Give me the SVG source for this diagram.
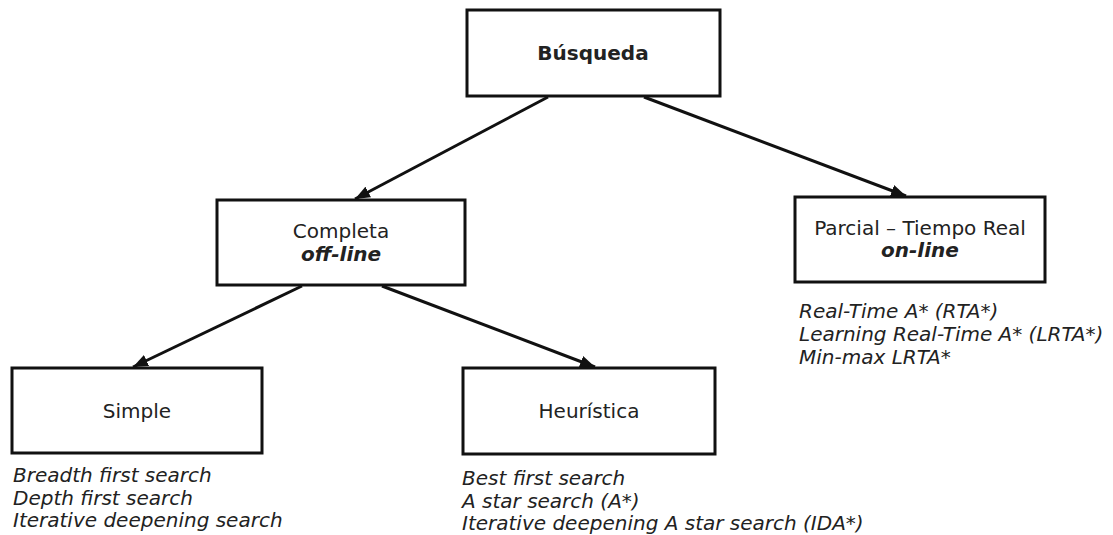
<svg xmlns="http://www.w3.org/2000/svg" width="1113" height="535" viewBox="0 0 1113 535">
<style>
.box{fill:#fff;stroke:#111;stroke-width:3}
.t{font-family:"DejaVu Sans",Verdana,sans-serif;font-size:20px;fill:#222}
.c{text-anchor:middle}
.b{font-weight:bold}
.i{font-style:italic}
.edge{stroke:#111;stroke-width:3;fill:none;marker-end:url(#arr)}
</style>
<defs>
<marker id="arr" markerUnits="userSpaceOnUse" markerWidth="16" markerHeight="12" refX="15" refY="6" orient="auto">
<path d="M0,0 L15,6 L0,12 Z" fill="#111"/>
</marker>
</defs>
<rect width="1113" height="535" fill="#fff"/>
<g id="connectors">
<line class="edge" x1="548" y1="97" x2="355" y2="199"/>
<line class="edge" x1="644" y1="97" x2="906" y2="196"/>
<line class="edge" x1="302" y1="286" x2="133" y2="367"/>
<line class="edge" x1="382" y1="286" x2="595" y2="367"/>
</g>
<g id="busqueda">
<rect class="box" x="467" y="10" width="253" height="86"/>
<text class="t c b" x="593" y="60">Búsqueda</text>
</g>
<g id="completa">
<rect class="box" x="217" y="200" width="248" height="85"/>
<text class="t c" x="341" y="238">Completa</text>
<text class="t c b i" x="341" y="261">off-line</text>
</g>
<g id="parcial">
<rect class="box" x="795" y="197" width="250" height="85"/>
<text class="t c" x="920" y="235">Parcial – Tiempo Real</text>
<text class="t c b i" x="920" y="257">on-line</text>
<text class="t i" x="799" y="318">Real-Time A* (RTA*)</text>
<text class="t i" x="799" y="341">Learning Real-Time A* (LRTA*)</text>
<text class="t i" x="799" y="364">Min-max LRTA*</text>
</g>
<g id="simple">
<rect class="box" x="12" y="368" width="250" height="85"/>
<text class="t c" x="137" y="418">Simple</text>
<text class="t i" x="13" y="482">Breadth first search</text>
<text class="t i" x="13" y="505">Depth first search</text>
<text class="t i" x="13" y="527">Iterative deepening search</text>
</g>
<g id="heuristica">
<rect class="box" x="463" y="368" width="252" height="86"/>
<text class="t c" x="589" y="418">Heurística</text>
<text class="t i" x="462" y="485">Best first search</text>
<text class="t i" x="462" y="508">A star search (A*)</text>
<text class="t i" x="462" y="530">Iterative deepening A star search (IDA*)</text>
</g>
</svg>
